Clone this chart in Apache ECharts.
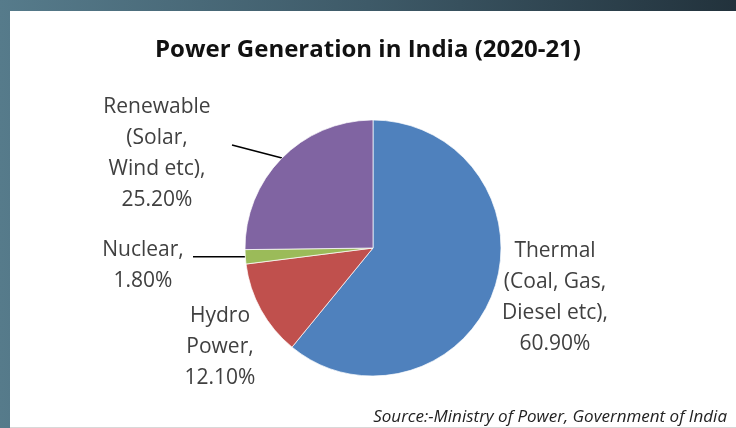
<!DOCTYPE html>
<html>
<head>
<meta charset="utf-8">
<script src="https://cdn.jsdelivr.net/npm/echarts@6/dist/echarts.min.js"></script>
<style>
  html, body { margin: 0; padding: 0; }
  body { width: 736px; height: 428px; position: relative; overflow: hidden;
         background: linear-gradient(to right, #567b8b 0%, #3e5a68 50%, #22323c 100%); }
  #paper { position: absolute; left: 10px; top: 11px; width: 726px; height: 417px; background: #fff;
           border-bottom: 1px solid #d8d8d8; box-sizing: border-box; }
  #chart { position: absolute; left: 0; top: 0; width: 736px; height: 428px; }
</style>
</head>
<body>
<div id="paper"></div>
<div id="chart"></div>
<script>
const categories = ['Thermal\n(Coal, Gas,\nDiesel etc)', 'Hydro\nPower', 'Nuclear', 'Renewable\n(Solar,\nWind etc)'];
const values = [60.9, 12.1, 1.8, 25.2];
const colors = ['#4f81bd', '#c0504d', '#9bbb59', '#8064a2'];

// label anchor positions (page pixels) and leader-line end points (null = no line)
const labelPos = [[555, 298], [220, 347], [143, 266], [157, 154]];
const lineEnd = [null, null, [193, null], [232, 145]];

const chart = echarts.init(document.getElementById('chart'), null, { renderer: 'canvas' });
const font = '"Open Sans", "Noto Sans", sans-serif';

chart.setOption({
  backgroundColor: 'transparent',
  animation: false,
  title: {
    text: 'Power Generation in India (2020-21)',
    left: 'center',
    top: 33,
    textStyle: { fontFamily: font, fontSize: 24, fontWeight: 'bold', color: '#111' }
  },
  graphic: [{
    type: 'text',
    right: 9,
    top: 409,
    style: {
      text: 'Source:-Ministry of Power, Government of India',
      font: 'italic 17px ' + font,
      fill: '#222'
    }
  }],
  series: [{
    type: 'pie',
    center: [373, 248],
    radius: 128,
    startAngle: 90,
    clockwise: true,
    data: categories.map((c, i) => ({
      name: c,
      value: values[i],
      itemStyle: { color: colors[i] },
      labelLine: { show: lineEnd[i] !== null }
    })),
    itemStyle: { borderColor: 'rgba(255,255,255,0.7)', borderWidth: 1 },
    label: {
      show: true,
      position: 'outside',
      formatter: p => p.name + ',\n' + p.value.toFixed(2) + '%',
      fontFamily: font,
      fontSize: 21,
      lineHeight: 31,
      color: '#404040',
      align: 'center'
    },
    labelLine: { show: true, length: 10, length2: 10, lineStyle: { color: '#000', width: 1.5 } },
    labelLayout: function (params) {
      const i = params.dataIndex;
      const p = labelPos[i];
      const out = { x: p[0], y: p[1], align: 'center', verticalAlign: 'middle' };
      const e = lineEnd[i];
      if (e && params.labelLinePoints) {
        const s = params.labelLinePoints[0];
        out.labelLinePoints = [[s[0], s[1]], [e[0], e[1] == null ? s[1] : e[1]]];
      }
      return out;
    },
    emphasis: { disabled: true }
  }]
});
</script>
</body>
</html>
